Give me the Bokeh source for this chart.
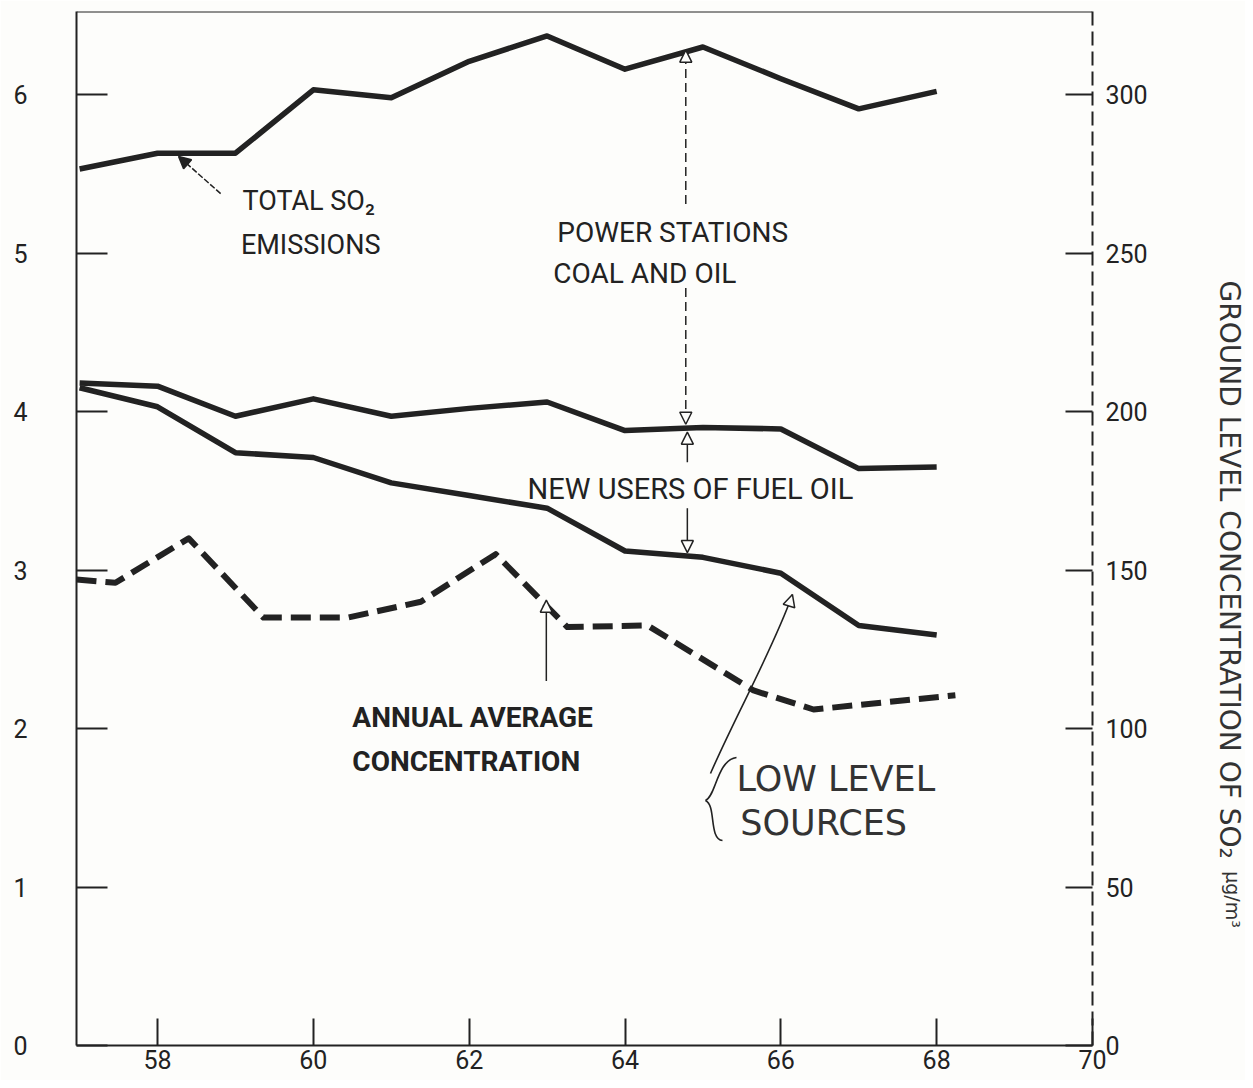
import math
from bokeh.plotting import figure
from bokeh.models import (Range1d, LinearAxis, FixedTicker, Span, Label, Arrow,
                          NormalHead)
from bokeh.embed import file_html
from bokeh.resources import INLINE

# ---------------- data ----------------
years = [57, 58, 59, 60, 61, 62, 63, 64, 65, 66, 67, 68]
# total SO2 emissions (left axis, million tonnes)
total_so2 = [5.53, 5.63, 5.63, 6.03, 5.98, 6.21, 6.37, 6.16, 6.30, 6.10, 5.91, 6.02]
# lower edge of the power-station band
power_base = [4.18, 4.16, 3.97, 4.08, 3.97, 4.02, 4.06, 3.88, 3.90, 3.89, 3.64, 3.65]
# low level sources (lower edge of new users of fuel oil band)
low_level = [4.15, 4.03, 3.74, 3.71, 3.55, 3.47, 3.39, 3.12, 3.08, 2.98, 2.65, 2.59]
# annual average ground level concentration (right axis, ug/m3)
conc_years = [56.96, 57.46, 58.40, 59.36, 60.44, 61.38, 62.34, 63.26, 64.29, 65.65, 66.42, 68.24]
conc_ugm3 = [147, 146, 160, 135, 135, 140, 155, 132, 132.5, 112, 106, 110.5]

x_ticks = [58, 60, 62, 64, 66, 68, 70]
left_ticks = [0, 1, 2, 3, 4, 5, 6]
right_ticks = [0, 50, 100, 150, 200, 250, 300]

# ---------------- styling ----------------
INK = "#222222"
BG = "#fdfdfb"
FONT = "Roboto"

Y_TOP = 6.524
p = figure(width=1245, height=1080,
           x_range=Range1d(56.96, 70), y_range=Range1d(0, Y_TOP),
           output_backend="svg", toolbar_location=None,
           min_border_left=76, min_border_right=153,
           min_border_top=11, min_border_bottom=35)
p.background_fill_color = BG
p.border_fill_color = BG
p.outline_line_color = None
p.grid.visible = False

p.extra_y_ranges = {"conc": Range1d(0, Y_TOP * 50)}

# bottom axis
xa = p.xaxis[0]
xa.ticker = FixedTicker(ticks=x_ticks)
xa.major_tick_in = 27
xa.major_tick_out = 0
xa.minor_tick_line_color = None
xa.axis_line_width = 2
xa.axis_line_color = INK
xa.major_tick_line_width = 2
xa.major_tick_line_color = INK
xa.major_label_standoff = 4
xa.major_label_text_font = FONT
xa.major_label_text_font_size = "25px"
xa.major_label_text_color = INK

# left axis
ya = p.yaxis[0]
ya.ticker = FixedTicker(ticks=left_ticks)
ya.major_tick_in = 31
ya.major_tick_out = 0
ya.minor_tick_line_color = None
ya.axis_line_width = 2
ya.axis_line_color = INK
ya.major_tick_line_width = 2
ya.major_tick_line_color = INK
ya.major_label_standoff = 49
ya.major_label_text_font = FONT
ya.major_label_text_font_size = "25px"
ya.major_label_text_color = INK

# right axis (dashed)
ra = LinearAxis(y_range_name="conc", ticker=FixedTicker(ticks=right_ticks))
ra.major_tick_in = 27
ra.major_tick_out = 0
ra.minor_tick_line_color = None
ra.axis_line_width = 2
ra.axis_line_color = INK
ra.axis_line_dash = "14 6"
ra.major_tick_line_width = 2
ra.major_tick_line_color = INK
ra.major_label_standoff = 13
ra.major_label_text_font = FONT
ra.major_label_text_font_size = "25px"
ra.major_label_text_color = INK
p.add_layout(ra, "right")

# right axis title (placed in the right side panel so it is not clipped)
p.add_layout(Label(x=71.758, y=4.826, text="GROUND LEVEL CONCENTRATION OF SO₂",
                   angle=-math.pi / 2, text_align="left", text_baseline="middle",
                   text_font="DejaVu Sans", text_font_size="28px",
                   text_color="#333333"), "right")
p.add_layout(Label(x=71.80, y=1.10, text="µg/m³",
                   angle=-math.pi / 2, text_align="left", text_baseline="middle",
                   text_font="DejaVu Sans", text_font_size="19px",
                   text_color="#333333"), "right")

# top frame line
p.add_layout(Span(location=Y_TOP, dimension="width", line_color=INK, line_width=2))

# ---------------- series ----------------
for ys in (total_so2, power_base, low_level):
    p.line(years, ys, line_color=INK, line_width=5.5, line_join="round")

p.line(conc_years, conc_ugm3, y_range_name="conc", line_color=INK,
       line_width=6, line_dash="20 9", line_join="round")

# ---------------- annotations ----------------
def lab(x, y, text, size="27px", font=FONT, style="normal", color=INK, **kw):
    p.add_layout(Label(x=x, y=y, text=text, text_font=font, text_font_size=size,
                       text_font_style=style, text_color=color,
                       text_align=kw.pop("align", "left"),
                       text_baseline=kw.pop("baseline", "middle"), **kw))

def arrow(x0, y0, x1, y1, dash="solid", width=1.5, size=12, fill=INK):
    p.add_layout(Arrow(x_start=x0, y_start=y0, x_end=x1, y_end=y1,
                       line_color=INK, line_width=width, line_dash=dash,
                       end=NormalHead(size=size, fill_color=fill,
                                      line_color=INK, line_width=1.5)))

lab(59.09, 5.33, "TOTAL SO₂")
lab(59.07, 5.05, "EMISSIONS")
arrow(58.81, 5.375, 58.27, 5.61, dash="6 2")

lab(63.13, 5.13, "POWER STATIONS", size="28px")
lab(63.08, 4.87, "COAL AND OIL", size="28px")
arrow(64.78, 5.31, 64.78, 6.28, dash="9 5", fill=BG)
arrow(64.78, 4.78, 64.78, 3.92, dash="9 5", fill=BG)

lab(62.75, 3.51, "NEW USERS OF FUEL OIL", size="29px")
arrow(64.80, 3.68, 64.80, 3.87, fill=BG)
arrow(64.80, 3.39, 64.80, 3.11, fill=BG)

lab(60.50, 2.07, "ANNUAL AVERAGE", size="28px", style="bold")
lab(60.50, 1.79, "CONCENTRATION", size="28px", style="bold")
arrow(62.99, 2.30, 62.99, 2.81, fill=BG)

# hand-written note
lab(65.43, 1.68, "LOW LEVEL", size="35px", font="DejaVu Sans", color="#333333")
lab(65.48, 1.407, "SOURCES", size="35px", font="DejaVu Sans", color="#333333")
# brace
p.bezier(x0=[65.431, 65.033], y0=[1.817, 1.546], x1=[65.033, 65.251], y1=[1.546, 1.293],
         cx0=[65.174, 65.174], cy0=[1.798, 1.514], cx1=[65.174, 65.071], cy1=[1.577, 1.306],
         line_color=INK, line_width=1.6)
# curved pointer to the low level line
p.bezier(x0=[65.097], y0=[1.716], x1=[66.149], y1=[2.845],
         cx0=[65.418], cy0=[2.082], cx1=[65.893], cy1=[2.492],
         line_color=INK, line_width=1.6)
arrow(66.115, 2.79, 66.149, 2.845, fill=BG)

open("out.html", "w").write(file_html(p, INLINE))
